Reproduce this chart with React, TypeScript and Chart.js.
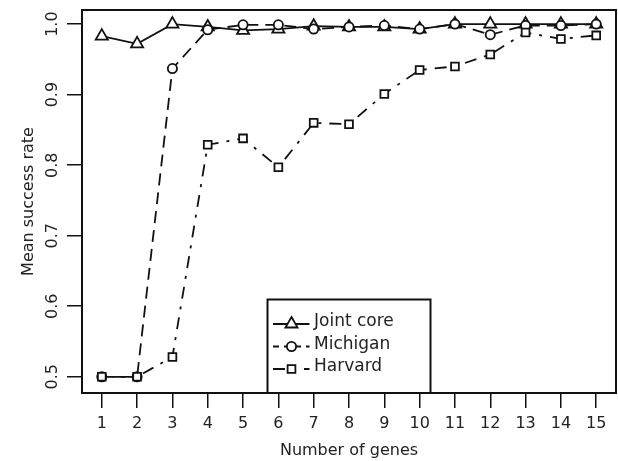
import { useEffect, useRef } from "react";
import { Chart, registerables } from "chart.js";

Chart.register(...registerables);

const genes = [1, 2, 3, 4, 5, 6, 7, 8, 9, 10, 11, 12, 13, 14, 15];
const jointCore = [0.983, 0.972, 1.0, 0.996, 0.991, 0.993, 0.997, 0.996, 0.996, 0.993, 1.0, 1.0, 1.0, 1.0, 1.0];
const michigan = [0.5, 0.5, 0.937, 0.992, 0.999, 0.999, 0.993, 0.996, 0.998, 0.993, 1.0, 0.985, 0.998, 0.998, 1.0];
const harvard = [0.5, 0.5, 0.528, 0.829, 0.838, 0.797, 0.86, 0.858, 0.901, 0.935, 0.94, 0.957, 0.988, 0.979, 0.984];
const yTicks = [0.5, 0.6, 0.7, 0.8, 0.9, 1.0];
const xTicks = genes;
const seriesNames = ["Joint core", "Michigan", "Harvard"];
const xTitle = "Number of genes";
const yTitle = "Mean success rate";

const FONT = "'DejaVu Sans', sans-serif";
const INK = "#111";
const TEXT = "#222";

const dashMichigan = [12, 7];
const dashHarvard = [3, 8, 12, 8];

function drawMarker(ctx: CanvasRenderingContext2D, style: string, x: number, y: number) {
  ctx.beginPath();
  if (style === "triangle") {
    const r = 7;
    ctx.moveTo(x, y - r);
    ctx.lineTo(x + r * 0.866, y + r * 0.5);
    ctx.lineTo(x - r * 0.866, y + r * 0.5);
    ctx.closePath();
  } else if (style === "circle") {
    ctx.arc(x, y, 4.6, 0, Math.PI * 2);
  } else {
    const s = 3.9;
    ctx.rect(x - s, y - s, 2 * s, 2 * s);
  }
  ctx.fillStyle = "#fff";
  ctx.fill();
  ctx.setLineDash([]);
  ctx.stroke();
}

const boxPlugin = {
  id: "rbox",
  afterDraw(chart: any) {
    const { ctx, chartArea: a } = chart;
    ctx.save();
    ctx.strokeStyle = INK;
    ctx.lineWidth = 2;
    ctx.setLineDash([]);
    ctx.strokeRect(a.left, a.top, a.right - a.left, a.bottom - a.top);

    // legend box
    const lx = 267.5;
    const ly = 299.5;
    const lw = 163;
    ctx.fillStyle = "#fff";
    ctx.fillRect(lx, ly, lw, a.bottom - ly);
    ctx.strokeRect(lx, ly, lw, a.bottom - ly);

    const styles = ["triangle", "circle", "rect"];
    const dashes = [[], [6, 5], dashHarvard];
    const offsets = [0, 0, 11];
    const rowY = [324, 346.5, 369];
    ctx.lineWidth = 1.8;
    for (let i = 0; i < 3; i++) {
      ctx.strokeStyle = INK;
      ctx.setLineDash(dashes[i]);
      ctx.lineDashOffset = offsets[i];
      ctx.beginPath();
      ctx.moveTo(273, rowY[i]);
      ctx.lineTo(309.5, rowY[i]);
      ctx.stroke();
      ctx.lineDashOffset = 0;
      drawMarker(ctx, styles[i], 291.5, rowY[i]);
      ctx.fillStyle = TEXT;
      ctx.font = `17px ${FONT}`;
      ctx.textBaseline = "middle";
      ctx.textAlign = "left";
      ctx.fillText(seriesNames[i], 314, rowY[i] - 2);
    }
    ctx.restore();
  },
};

export default function App() {
  const ref = useRef<HTMLCanvasElement | null>(null);
  useEffect(() => {
    if (!ref.current) return;
    const mk = (ys: number[]) => genes.map((g, i) => ({ x: g, y: ys[i] }));
    const chart = new Chart(ref.current, {
      type: "line",
      data: {
        datasets: [
          {
            label: seriesNames[0],
            data: mk(jointCore),
            borderColor: INK,
            borderWidth: 1.8,
            pointStyle: "triangle",
            pointRadius: 7,
            pointBorderWidth: 1.8,
            pointBackgroundColor: "#fff",
            pointBorderColor: INK,
            order: 3,
          },
          {
            label: seriesNames[1],
            data: mk(michigan),
            borderColor: INK,
            borderWidth: 1.8,
            borderDash: dashMichigan,
            pointStyle: "circle",
            pointRadius: 4.6,
            pointBorderWidth: 1.8,
            pointBackgroundColor: "#fff",
            pointBorderColor: INK,
            order: 2,
          },
          {
            label: seriesNames[2],
            data: mk(harvard),
            borderColor: INK,
            borderWidth: 1.8,
            borderDash: dashHarvard,
            pointStyle: "rect",
            pointRadius: 5.5,
            pointBorderWidth: 1.8,
            pointBackgroundColor: "#fff",
            pointBorderColor: INK,
            order: 1,
          },
        ],
      },
      options: {
        responsive: false,
        animation: false,
        layout: { autoPadding: false, padding: { top: 10, right: 2, left: 0, bottom: 0 } },
        plugins: { legend: { display: false }, tooltip: { enabled: false } },
        scales: {
          x: {
            type: "linear",
            min: 0.44,
            max: 15.56,
            afterBuildTicks: (s: any) => {
              s.ticks = xTicks.map((v) => ({ value: v }));
            },
            afterFit: (s: any) => {
              s.height = 68;
              s.paddingRight = 0;
              s.paddingLeft = 0;
            },
            grid: { drawOnChartArea: false, drawTicks: true, tickLength: 15, color: INK, lineWidth: 1.5 },
            border: { display: false },
            ticks: {
              autoSkip: false,
              maxRotation: 0,
              padding: 6,
              color: TEXT,
              font: { family: FONT, size: 16 },
              callback: (v: any) => String(v),
            },
            title: {
              display: true,
              text: xTitle,
              color: TEXT,
              font: { family: FONT, size: 16 },
              padding: { top: 0, bottom: 1 },
            },
          },
          y: {
            min: 0.477,
            max: 1.02,
            afterBuildTicks: (s: any) => {
              s.ticks = yTicks.map((v) => ({ value: v }));
            },
            afterFit: (s: any) => {
              s.width = 82;
              s.paddingTop = 0;
              s.paddingBottom = 0;
            },
            grid: { drawOnChartArea: false, drawTicks: true, tickLength: 15, color: INK, lineWidth: 1.5 },
            border: { display: false },
            ticks: {
              minRotation: 90,
              maxRotation: 90,
              crossAlign: "center",
              padding: 1,
              color: TEXT,
              font: { family: FONT, size: 16 },
              callback: (v: any) => Number(v).toFixed(1),
            },
            title: {
              display: true,
              text: yTitle,
              color: TEXT,
              font: { family: FONT, size: 16 },
              padding: { top: 19, bottom: 0 },
            },
          },
        },
      },
      plugins: [boxPlugin],
    } as any);
    return () => chart.destroy();
  }, []);
  return (
    <div style={{ position: "absolute", left: 0, top: 0, width: 618, height: 461, background: "#fff" }}>
      <canvas ref={ref} width={618} height={461} />
    </div>
  );
}
